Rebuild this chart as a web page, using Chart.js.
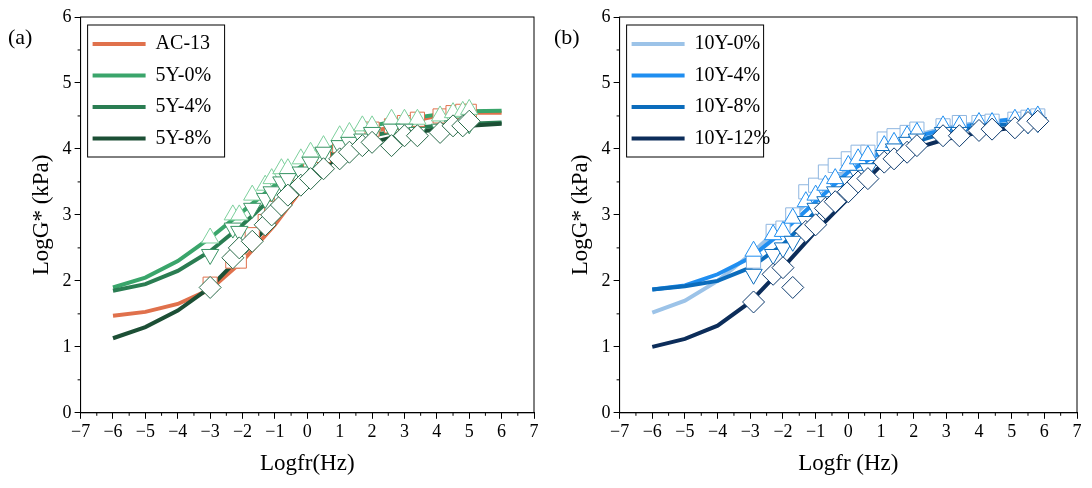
<!DOCTYPE html>
<html><head><meta charset="utf-8">
<script src="https://cdn.jsdelivr.net/npm/chart.js@4"></script>
<style>
body{margin:0;background:#fff;}
.wrap{display:flex;width:1092px;height:488px;}
.box{position:relative;width:546px;height:488px;}
</style></head>
<body>
<div class="wrap">
<div class="box"><canvas id="chartA"></canvas></div>
<div class="box"><canvas id="chartB"></canvas></div>
</div>
<script>
// curve x positions
var fitX = [-6,-5,-4,-3,-2,-1,0,1,2,3,4,5,6];

// panel (a) fitted curves
var namesA = ['AC-13','5Y-0%','5Y-4%','5Y-8%'];
var fitA = [
    [1.47,1.53,1.65,1.87,2.3,2.85,3.5,3.95,4.25,4.4,4.5,4.55,4.55],
    [1.9,2.05,2.3,2.65,3.05,3.45,3.8,4.1,4.35,4.45,4.52,4.57,4.58],
    [1.85,1.95,2.15,2.45,2.85,3.3,3.7,4.0,4.2,4.3,4.35,4.38,4.4],
    [1.13,1.3,1.55,1.9,2.4,2.95,3.5,3.9,4.1,4.22,4.3,4.35,4.38]
];
// panel (a) measured points
var ptXA = [-3,-2.3,-2.1,-1.7,-1.3,-1.1,-0.8,-0.6,-0.2,0.1,0.5,1.0,1.3,1.7,2.0,2.6,3.0,3.4,4.1,4.5,4.8,5.0];
var ptA = [
    [1.95,2.3,2.3,2.7,2.9,3.1,3.3,3.5,3.6,3.75,3.9,4.05,4.1,4.2,4.3,4.35,4.4,4.45,4.5,4.55,4.57,4.57],
    [2.65,3.0,3.0,3.3,3.45,3.55,3.7,3.7,3.85,3.95,4.05,4.2,4.25,4.35,4.35,4.45,4.45,4.45,4.5,4.55,4.57,4.6],
    [2.4,2.8,2.75,3.1,3.25,3.35,3.5,3.55,3.65,3.8,3.95,4.05,4.1,4.15,4.25,4.3,4.3,4.25,4.3,4.35,4.35,4.38],
    [1.9,2.35,2.5,2.6,2.85,3.0,3.15,3.3,3.45,3.55,3.7,3.85,3.95,4.05,4.1,4.05,4.2,4.2,4.25,4.35,4.35,4.42]
];
var colorsA = ['#e0714c','#3aa56b','#2a7d52','#1c4f35'];
var strokeA = ['#e0714c','#7ccf9c','#3a9465','#2a6b4a'];

// panel (b) fitted curves
var namesB = ['10Y-0%','10Y-4%','10Y-8%','10Y-12%'];
var fitB = [
    [1.52,1.7,2.0,2.4,2.85,3.3,3.7,4.0,4.2,4.32,4.4,4.45,4.48],
    [1.87,1.93,2.1,2.35,2.75,3.2,3.65,3.95,4.18,4.3,4.38,4.45,4.5],
    [1.87,1.92,2.0,2.2,2.55,3.05,3.5,3.85,4.1,4.25,4.33,4.38,4.42],
    [1.0,1.12,1.32,1.68,2.2,2.75,3.25,3.75,4.0,4.15,4.25,4.32,4.38]
];
var ptXB = [-2.9,-2.3,-2.0,-1.7,-1.3,-1.0,-0.7,-0.4,0.0,0.3,0.6,1.1,1.4,1.8,2.1,2.9,3.4,4.0,4.4,5.1,5.5,5.8];
var ptB = [
    [2.3,2.75,2.8,3.0,3.35,3.45,3.65,3.75,3.85,3.95,3.95,4.15,4.2,4.25,4.3,4.35,4.4,4.4,4.42,4.45,4.48,4.5],
    [2.45,2.7,2.75,2.95,3.2,3.3,3.45,3.55,3.75,3.85,3.9,4.05,4.1,4.2,4.25,4.35,4.35,4.4,4.4,4.45,4.47,4.5],
    [2.1,2.4,2.5,2.6,2.9,3.1,3.2,3.35,3.5,3.6,3.7,3.9,4.0,4.1,4.15,4.25,4.25,4.3,4.3,4.35,4.38,4.4],
    [1.68,2.1,2.2,1.9,2.75,2.85,3.1,3.2,3.35,3.5,3.55,3.8,3.85,3.95,4.05,4.2,4.2,4.28,4.3,4.32,4.4,4.42]
];
var colorsB = ['#9cc3e8','#1f8ef0','#0b6cbc','#0c2d5a'];
var strokeB = ['#8fb6e0','#1f8ef0','#0b6cbc','#0c3a6e'];

var markerStyles = ['rect','triangle','triangle','rectRot'];
var markerRot = [0,0,180,0];

var font = 'Liberation Serif, serif';

function buildDatasets(fit, ptX, pts, colors, strokes) {
    var ds = [];
    fit.forEach(function(vals, i) {
        ds.push({
            data: fitX.map((x, k) => ({x: x, y: vals[k]})),
            showLine: true, borderColor: colors[i], borderWidth: 4,
            pointRadius: 0, order: 10 - i
        });
    });
    pts.forEach(function(vals, i) {
        ds.push({
            data: ptX.map((x, k) => ({x: x, y: vals[k]})),
            showLine: false, pointStyle: markerStyles[i], rotation: markerRot[i],
            pointRadius: i == 3 ? 11 : 10, pointBorderWidth: 1,
            pointBackgroundColor: '#fff', pointBorderColor: strokes[i],
            order: 4 - i
        });
    });
    return ds;
}

function framePlugin(label, names, colors) {
    return {
        id: 'frame',
        afterDraw: function(chart) {
            var c = chart.ctx, a = chart.chartArea, ys = chart.scales.y, xs = chart.scales.x;
            c.save();
            c.strokeStyle = '#000'; c.lineWidth = 1;
            c.strokeRect(a.left, a.top, a.right - a.left, a.bottom - a.top);
            // minor ticks
            c.beginPath();
            for (var v = 0.5; v < 6; v += 1) {
                var py = ys.getPixelForValue(v);
                c.moveTo(a.left - 3, py); c.lineTo(a.left, py);
            }
            for (var u = -6.5; u < 7; u += 1) {
                var px = xs.getPixelForValue(u);
                c.moveTo(px, a.bottom); c.lineTo(px, a.bottom + 3);
            }
            c.stroke();
            // panel label
            c.fillStyle = '#000';
            c.font = '22px ' + font;
            c.textBaseline = 'middle';
            c.fillText(label, 8, 38);
            // legend
            var lx = a.left + 7, ly = a.top + 8;
            c.fillStyle = '#fff';
            c.fillRect(lx, ly, 137, 132);
            c.strokeRect(lx, ly, 137, 132);
            c.font = '20px ' + font;
            names.forEach(function(n, i) {
                var yy = ly + 19 + i * 31.5;
                c.strokeStyle = colors[i]; c.lineWidth = 4;
                c.beginPath(); c.moveTo(lx + 5, yy); c.lineTo(lx + 58, yy); c.stroke();
                c.fillStyle = '#000';
                c.fillText(n, lx + 68, yy);
            });
            c.restore();
        }
    };
}

function makeChart(id, label, names, fit, ptX, pts, colors, strokes, padLeft, padRight) {
    new Chart(document.getElementById(id), {
        type: 'scatter',
        data: { datasets: buildDatasets(fit, ptX, pts, colors, strokes) },
        options: {
            responsive: false, animation: false,
            layout: { padding: { left: padLeft, right: padRight, top: 17, bottom: 6 } },
            plugins: { legend: { display: false }, tooltip: { enabled: false } },
            scales: {
                x: {
                    min: -7, max: 7,
                    grid: { display: true, drawOnChartArea: false, color: '#000', tickLength: 6 },
                    border: { color: '#000' },
                    ticks: { stepSize: 1, color: '#000', font: { family: font, size: 18 },
                        callback: v => String(v).replace('-', '\u2212') },
                    title: { display: true, text: label == '(a)' ? 'Logfr(Hz)' : 'Logfr (Hz)',
                        color: '#000', font: { family: font, size: 23 } }
                },
                y: {
                    min: 0, max: 6,
                    grid: { display: true, drawOnChartArea: false, color: '#000', tickLength: 6 },
                    border: { color: '#000' },
                    ticks: { stepSize: 1, color: '#000', font: { family: font, size: 18 } },
                    title: { display: true, text: 'LogG* (kPa)', color: '#000', font: { family: font, size: 23 } }
                }
            }
        },
        plugins: [framePlugin(label, names, colors)]
    });
}

['chartA','chartB'].forEach(function(id) {
    var cv = document.getElementById(id); cv.width = 546; cv.height = 488;
});
makeChart('chartA', '(a)', namesA, fitA, ptXA, ptA, colorsA, strokeA, 24, 9);
makeChart('chartB', '(b)', namesB, fitB, ptXB, ptB, colorsB, strokeB, 17, 15);
</script>
</body></html>
